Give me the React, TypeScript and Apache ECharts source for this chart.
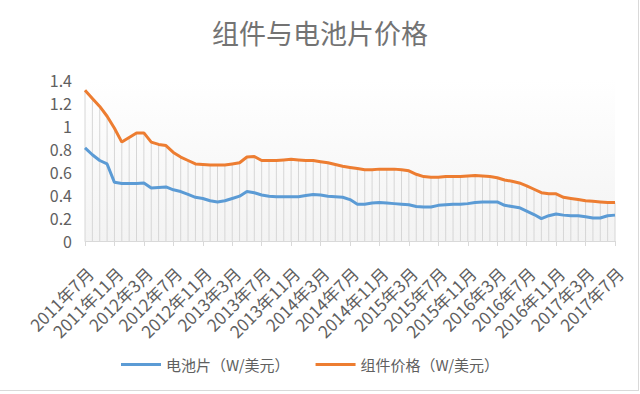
import React, { useEffect, useRef } from "react";
import * as echarts from "echarts";

const startYear = 2011;
const startMonth = 7;
const monthCount = 73;
const categories: string[] = [];
for (let k = 0; k < monthCount; k++) {
  const m = startMonth - 1 + k;
  categories.push(`${startYear + Math.floor(m / 12)}年${(m % 12) + 1}月`);
}

const cellPrice = [
  0.81, 0.75, 0.70, 0.67, 0.51, 0.50, 0.50, 0.50, 0.505, 0.46,
  0.465, 0.47, 0.445, 0.43, 0.405, 0.38, 0.37, 0.35, 0.34, 0.35,
  0.37, 0.39, 0.43, 0.42, 0.40, 0.39, 0.385, 0.385, 0.385, 0.385,
  0.395, 0.405, 0.40, 0.39, 0.385, 0.38, 0.36, 0.32, 0.32, 0.33,
  0.335, 0.33, 0.325, 0.32, 0.315, 0.30, 0.295, 0.295, 0.31, 0.315,
  0.32, 0.32, 0.325, 0.335, 0.34, 0.34, 0.34, 0.31, 0.30, 0.29,
  0.26, 0.23, 0.195, 0.22, 0.235, 0.225, 0.22, 0.22, 0.21, 0.20,
  0.20, 0.22, 0.225,
];

const modulePrice = [
  1.31, 1.24, 1.17, 1.085, 0.98, 0.86, 0.90, 0.94, 0.94, 0.86,
  0.84, 0.83, 0.77, 0.73, 0.70, 0.67, 0.665, 0.66, 0.66, 0.66,
  0.67, 0.68, 0.73, 0.735, 0.70, 0.70, 0.70, 0.705, 0.71, 0.705,
  0.70, 0.70, 0.69, 0.68, 0.665, 0.65, 0.64, 0.63, 0.62, 0.62,
  0.625, 0.625, 0.625, 0.62, 0.61, 0.58, 0.56, 0.555, 0.555, 0.56,
  0.56, 0.56, 0.565, 0.57, 0.565, 0.56, 0.55, 0.53, 0.52, 0.505,
  0.48, 0.45, 0.42, 0.41, 0.41, 0.38, 0.37, 0.36, 0.35, 0.345,
  0.34, 0.335, 0.335,
];

const seriesNames = ["电池片（W/美元）", "组件价格（W/美元）"];
const titleText = "组件与电池片价格";

const FONT = '"Noto Sans CJK SC", "Noto Sans", sans-serif';
const TEXT = "#606060";

export default function App() {
  const ref = useRef<HTMLDivElement>(null);
  useEffect(() => {
    if (!ref.current) return;
    const chart = echarts.init(ref.current, undefined, { renderer: "svg" });
    chart.setOption({
      animation: false,
      backgroundColor: "#ffffff",
      textStyle: { fontFamily: FONT },
      title: {
        text: titleText,
        left: "center",
        top: 14,
        textStyle: { fontSize: 27, fontWeight: "normal", color: "#737373", fontFamily: FONT },
      },
      legend: {
        data: seriesNames,
        left: 116,
        top: 352,
        icon: "rect",
        itemWidth: 40,
        itemHeight: 3,
        itemGap: 26,
        textStyle: { fontSize: 15, color: TEXT, fontFamily: FONT },
      },
      grid: [
        {
          left: 85,
          right: 25,
          top: 80,
          bottom: 153,
          show: true,
          borderWidth: 0,
          backgroundColor: {
            type: "linear",
            x: 0, y: 0, x2: 0, y2: 1,
            colorStops: [
              { offset: 0, color: "#ffffff" },
              { offset: 1, color: "#f3f3f3" },
            ],
          },
        },
        { left: 90, right: 20, top: 80, bottom: 153 },
      ],
      xAxis: [
        {
          type: "category",
          data: categories,
          boundaryGap: false,
          axisLine: { lineStyle: { color: "#d9d9d9", width: 1 } },
          axisTick: { show: true, interval: 3, length: 5, lineStyle: { color: "#d9d9d9" } },
          axisLabel: { show: false },
          splitLine: { show: false },
        },
        {
          type: "category",
          gridIndex: 1,
          data: categories,
          boundaryGap: false,
          axisLine: { show: false },
          axisTick: { show: false },
          splitLine: { show: false },
          axisLabel: {
            interval: 3,
            rotate: 45,
            fontSize: 17,
            color: TEXT,
            margin: 29,
            fontFamily: FONT,
          },
        },
      ],
      yAxis: [
        {
          type: "value",
          min: 0,
          max: 1.4,
          interval: 0.2,
          axisLine: { show: false },
          axisTick: { show: false },
          splitLine: { show: false },
          axisLabel: { fontSize: 16, color: TEXT, margin: 13, fontFamily: FONT },
        },
        { type: "value", gridIndex: 1, min: 0, max: 1.4, show: false },
      ],
      graphic: [
        { type: "line", shape: { x1: 638.5, y1: 0, x2: 638.5, y2: 391 }, style: { stroke: "#d9d9d9", lineWidth: 1 } },
        { type: "line", shape: { x1: 0, y1: 390.5, x2: 639, y2: 390.5 }, style: { stroke: "#d9d9d9", lineWidth: 1 } },
      ],
      series: [
        {
          type: "custom",
          silent: true,
          z: 1,
          data: modulePrice.map((v, i) => [i, v]),
          encode: { x: 0, y: 1 },
          renderItem: (_params: any, api: any) => {
            const top = api.coord([api.value(0), api.value(1)]);
            const bottom = api.coord([api.value(0), 0]);
            return {
              type: "line",
              shape: { x1: top[0], y1: top[1], x2: bottom[0], y2: bottom[1] },
              style: { stroke: "#d6d6d6", lineWidth: 1 },
            };
          },
        },
        {
          name: seriesNames[0],
          type: "line",
          data: cellPrice,
          symbol: "none",
          z: 3,
          itemStyle: { color: "#5B9BD5" },
          lineStyle: { color: "#5B9BD5", width: 3 },
        },
        {
          name: seriesNames[1],
          type: "line",
          data: modulePrice,
          symbol: "none",
          z: 3,
          itemStyle: { color: "#ED7D31" },
          lineStyle: { color: "#ED7D31", width: 3 },
        },
      ],
    });
    return () => chart.dispose();
  }, []);
  return (
    <div
      ref={ref}
      style={{ position: "absolute", left: 0, top: 0, width: 640, height: 394 }}
    />
  );
}
